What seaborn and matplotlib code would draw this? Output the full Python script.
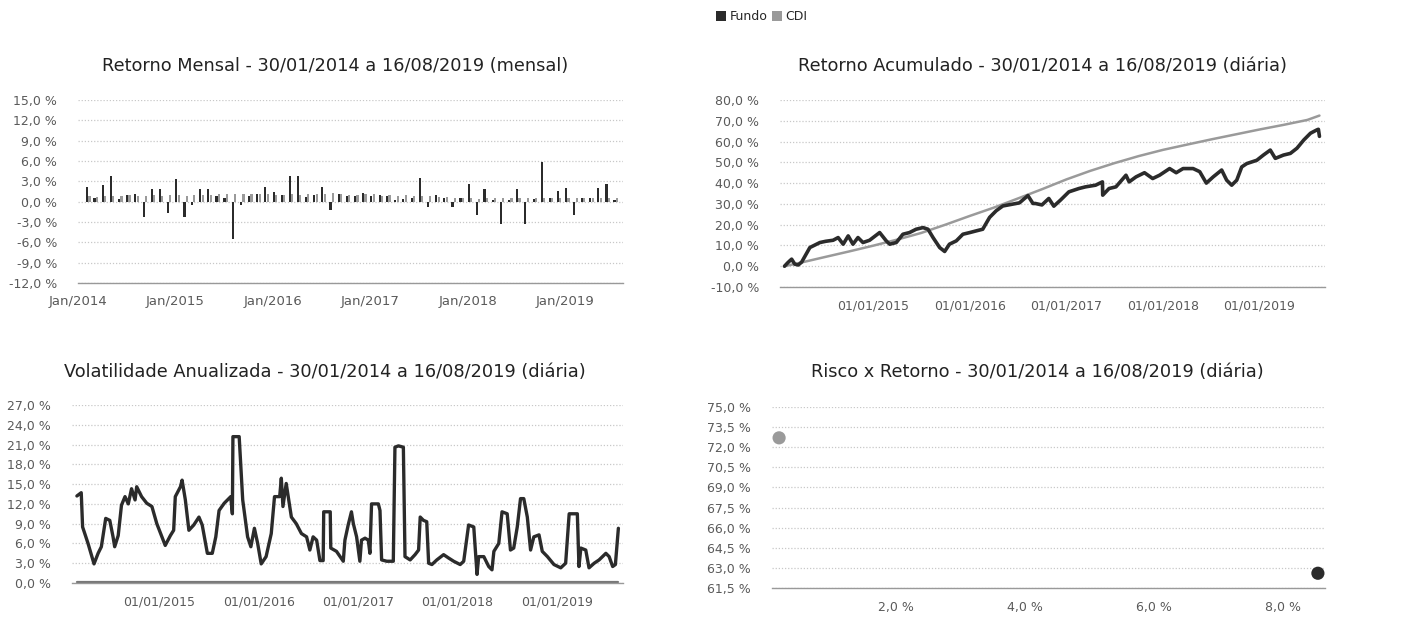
import numpy as np
import pandas as pd
import matplotlib
matplotlib.use("Agg")
import matplotlib.pyplot as plt
import matplotlib.dates as mdates
from matplotlib.ticker import FuncFormatter, FixedLocator
from matplotlib.patches import Patch
import seaborn as sns

# ---------------- DATA ----------------
months = ["2014-02", "2014-03", "2014-04", "2014-05", "2014-06", "2014-07", "2014-08", "2014-09", "2014-10", "2014-11", "2014-12",
          "2015-01", "2015-02", "2015-03", "2015-04", "2015-05", "2015-06", "2015-07", "2015-08", "2015-09", "2015-10", "2015-11", "2015-12",
          "2016-01", "2016-02", "2016-03", "2016-04", "2016-05", "2016-06", "2016-07", "2016-08", "2016-09", "2016-10", "2016-11", "2016-12",
          "2017-01", "2017-02", "2017-03", "2017-04", "2017-05", "2017-06", "2017-07", "2017-08", "2017-09", "2017-10", "2017-11", "2017-12",
          "2018-01", "2018-02", "2018-03", "2018-04", "2018-05", "2018-06", "2018-07", "2018-08", "2018-09", "2018-10", "2018-11", "2018-12",
          "2019-01", "2019-02", "2019-03", "2019-04", "2019-05", "2019-06", "2019-07"]
fundo_mensal = [2.2, 0.5, 2.5, 3.8, 0.4, 1.0, 1.2, -2.3, 1.8, 1.8, -1.6,
                3.3, -2.3, -0.5, 1.8, 1.8, 0.8, 0.6, -5.5, -0.5, 0.9, 1.1, 2.2,
                1.4, 1.0, 3.8, 3.8, 0.7, 1.0, 2.2, -1.2, 1.1, 0.9, 0.8, 1.3,
                0.9, 1.0, 0.8, 0.3, 0.4, 0.5, 3.5, -0.8, 1.0, 0.5, -0.8, 0.6,
                2.6, -2.0, 1.9, 0.3, -3.3, 0.3, 1.8, -3.3, 0.4, 5.8, 0.6, 1.5,
                2.0, -2.0, 0.5, 0.6, 2.0, 2.6, 0.3]
cdi_mensal = [0.78, 0.76, 0.82, 0.86, 0.82, 0.94, 0.86, 0.90, 0.94, 0.84, 0.96,
              0.93, 0.82, 1.04, 0.95, 0.98, 1.07, 1.18, 1.11, 1.11, 1.11, 1.06, 1.16,
              1.05, 1.00, 1.16, 1.05, 1.11, 1.16, 1.11, 1.21, 1.11, 1.05, 1.04, 1.12,
              1.09, 0.87, 1.05, 0.79, 0.93, 0.81, 0.80, 0.80, 0.64, 0.64, 0.57, 0.54,
              0.58, 0.46, 0.53, 0.52, 0.52, 0.52, 0.54, 0.57, 0.47, 0.54, 0.49, 0.49,
              0.54, 0.49, 0.47, 0.52, 0.54, 0.47, 0.57]

acum_fundo_datas = ["2014-01-30", "2014-02-10", "2014-02-19", "2014-02-26", "2014-03-10", "2014-03-23", "2014-04-05",
                    "2014-05-06", "2014-06-13", "2014-07-05", "2014-08-02", "2014-08-21", "2014-09-09", "2014-09-28",
                    "2014-10-16", "2014-11-04", "2014-11-23", "2014-12-18", "2015-01-25", "2015-02-19", "2015-03-04",
                    "2015-03-29", "2015-04-23", "2015-05-18", "2015-06-12", "2015-07-08", "2015-07-27", "2015-08-15",
                    "2015-09-09", "2015-09-28", "2015-10-16", "2015-11-11", "2015-12-06", "2016-01-01", "2016-01-25",
                    "2016-02-19", "2016-03-16", "2016-04-10", "2016-05-05", "2016-06-12", "2016-07-07", "2016-08-08",
                    "2016-08-27", "2016-09-05", "2016-09-30", "2016-10-26", "2016-11-14", "2016-12-09", "2017-01-10",
                    "2017-02-17", "2017-03-14", "2017-04-21", "2017-05-17", "2017-05-18", "2017-06-11", "2017-07-07",
                    "2017-08-14", "2017-08-26", "2017-09-21", "2017-10-23", "2017-11-23", "2017-12-19", "2018-01-26",
                    "2018-02-20", "2018-03-18", "2018-04-25", "2018-05-20", "2018-06-14", "2018-07-10", "2018-08-11",
                    "2018-08-30", "2018-09-18", "2018-10-07", "2018-10-26", "2018-11-14", "2018-12-22", "2019-01-16",
                    "2019-02-11", "2019-03-02", "2019-04-02", "2019-04-28", "2019-05-23", "2019-06-18", "2019-07-13",
                    "2019-08-06", "2019-08-12", "2019-08-16"]
acum_fundo = [0.0, 1.5, 2.6, 3.4, 1.0, 0.6, 2.0,
              9.0, 11.4, 12.0, 12.5, 13.8, 10.6, 14.6,
              10.6, 13.8, 11.4, 12.5, 16.2, 12.2, 10.6,
              11.4, 15.4, 16.2, 17.8, 18.6, 17.8, 13.8,
              9.0, 7.1, 10.6, 12.2, 15.4, 16.2, 17.0,
              17.8, 23.5, 26.7, 29.0, 29.9, 30.5, 34.0,
              30.2, 30.2, 29.5, 32.6, 28.9, 31.8, 35.8,
              37.4, 38.2, 39.0, 40.6, 34.2, 37.4, 38.2,
              43.8, 40.6, 43.0, 45.0, 42.2, 43.8, 47.0,
              45.0, 47.0, 47.0, 45.5, 40.0, 43.0, 46.3,
              41.4, 39.0, 41.4, 47.8, 49.4, 51.0, 53.5,
              55.9, 51.9, 53.5, 54.3, 56.8, 60.8, 64.0,
              65.6, 65.9, 62.5]

acum_cdi_datas = ["2014-01-30", "2014-04-01", "2014-07-01", "2014-10-01", "2015-01-01", "2015-04-01", "2015-07-01",
                  "2015-10-01", "2016-01-01", "2016-04-01", "2016-07-01", "2016-10-01", "2017-01-01", "2017-04-01",
                  "2017-07-01", "2017-10-01", "2018-01-01", "2018-04-01", "2018-07-01", "2018-10-01", "2019-01-01",
                  "2019-04-01", "2019-07-01", "2019-08-16"]
acum_cdi = [0.0, 1.7, 4.4, 7.1, 9.9, 12.8, 16.0,
            20.0, 24.2, 28.2, 32.6, 37.1, 41.8, 45.9,
            49.6, 53.0, 56.0, 58.5, 61.0, 63.4, 65.8,
            68.0, 70.4, 72.5]

vol_datas = ["2014-03-03", "2014-03-19", "2014-03-24", "2014-04-13", "2014-05-05", "2014-05-20", "2014-06-01", "2014-06-17",
             "2014-07-02", "2014-07-14", "2014-07-20", "2014-08-02", "2014-08-14", "2014-08-27", "2014-09-08", "2014-09-20",
             "2014-10-03", "2014-10-09", "2014-10-27", "2014-11-15", "2014-12-04", "2014-12-22", "2015-01-10", "2015-01-22",
             "2015-02-10", "2015-02-22", "2015-02-28", "2015-03-19", "2015-03-25", "2015-04-06", "2015-04-19", "2015-05-07",
             "2015-05-26", "2015-06-07", "2015-06-26", "2015-07-14", "2015-07-27", "2015-08-08", "2015-08-27", "2015-09-20",
             "2015-09-26", "2015-09-28", "2015-10-21", "2015-11-03", "2015-11-21", "2015-12-03", "2015-12-16", "2015-12-28",
             "2016-01-10", "2016-01-28", "2016-02-16", "2016-02-28", "2016-03-18", "2016-03-24", "2016-03-30", "2016-04-11",
             "2016-04-30", "2016-05-18", "2016-06-06", "2016-06-25", "2016-07-07", "2016-07-19", "2016-08-01", "2016-08-13",
             "2016-08-25", "2016-08-27", "2016-09-20", "2016-09-22", "2016-10-13", "2016-11-07", "2016-11-13", "2016-11-25",
             "2016-12-07", "2016-12-14", "2016-12-26", "2017-01-07", "2017-01-13", "2017-01-26", "2017-02-07", "2017-02-13",
             "2017-02-19", "2017-03-16", "2017-03-22", "2017-03-28", "2017-04-16", "2017-05-10", "2017-05-16", "2017-05-29",
             "2017-06-16", "2017-06-22", "2017-07-11", "2017-07-29", "2017-08-11", "2017-08-17", "2017-08-29", "2017-09-10",
             "2017-09-17", "2017-09-29", "2017-10-17", "2017-11-11", "2017-11-29", "2017-12-18", "2018-01-11", "2018-01-24",
             "2018-02-11", "2018-03-02", "2018-03-14", "2018-03-20", "2018-04-08", "2018-04-26", "2018-05-08", "2018-05-15",
             "2018-06-02", "2018-06-14", "2018-07-03", "2018-07-15", "2018-07-27", "2018-08-09", "2018-08-21", "2018-09-02",
             "2018-09-15", "2018-09-27", "2018-10-09", "2018-10-28", "2018-11-09", "2018-11-28", "2018-12-22", "2019-01-16",
             "2019-02-03", "2019-02-16", "2019-03-18", "2019-03-24", "2019-03-31", "2019-04-18", "2019-04-30", "2019-05-19",
             "2019-06-06", "2019-07-01", "2019-07-13", "2019-07-26", "2019-08-05", "2019-08-16"]
vol_fundo = [13.2, 13.7, 8.5, 6.0, 2.9, 4.5, 5.5, 9.8,
             9.5, 7.0, 5.5, 7.2, 11.8, 13.1, 12.0, 14.3,
             12.6, 14.6, 13.1, 12.1, 11.6, 9.0, 7.0, 5.7,
             7.2, 8.0, 13.1, 14.6, 15.6, 12.6, 8.0, 8.8,
             10.0, 8.8, 4.5, 4.5, 7.0, 11.0, 12.1, 13.1,
             10.5, 22.2, 22.2, 12.6, 7.0, 5.5, 8.3, 6.0,
             2.9, 4.0, 7.5, 13.1, 13.1, 15.9, 11.6, 15.1,
             10.0, 9.0, 7.5, 7.0, 5.0, 7.0, 6.5, 3.4,
             3.4, 10.8, 10.8, 5.3, 4.8, 3.3, 6.5, 8.8,
             10.8, 9.0, 7.0, 3.3, 6.5, 6.8, 6.5, 4.5,
             12.0, 12.0, 11.0, 3.5, 3.3, 3.3, 20.6, 20.8,
             20.6, 4.0, 3.5, 4.3, 5.0, 10.0, 9.5, 9.3,
             3.0, 2.8, 3.5, 4.3, 3.8, 3.3, 2.8, 3.3,
             8.8, 8.5, 1.3, 4.0, 4.0, 2.5, 2.0, 4.8,
             6.0, 10.8, 10.5, 5.0, 5.3, 8.5, 12.8, 12.8,
             10.0, 5.0, 7.0, 7.3, 4.8, 4.0, 2.8, 2.3,
             3.0, 10.5, 10.5, 2.5, 5.3, 5.0, 2.3, 3.0,
             3.5, 4.5, 4.0, 2.5, 2.8, 8.3]
vol_cdi_datas = ["2014-03-03", "2015-06-01", "2016-06-01", "2017-06-01", "2018-06-01", "2019-08-16"]
vol_cdi = [0.15, 0.15, 0.15, 0.15, 0.15, 0.15]

risco_series = ["Fundo", "CDI"]
risco_vol = [8.54, 0.19]
risco_ret = [62.6, 72.7]

# ---------------- STYLE ----------------
sns.set_theme(style="white")
plt.rcParams["font.family"] = ["DejaVu Sans"]

C_FUNDO = "#2b2b2b"
C_CDI = "#9a9a9a"
C_TICK = "#5a5a5a"
C_GRID = "#c8c8c8"

fig = plt.figure(figsize=(14.09, 6.3), dpi=100)
W, H = 1409, 630


def add_ax(l, t, r, b):
    return fig.add_axes([l / W, 1 - b / H, (r - l) / W, (b - t) / H])


def pct(dec):
    def f(v, pos):
        return f"{v:.{dec}f}".replace(".", ",") + " %"
    return FuncFormatter(f)


def style(ax, yticks):
    ax.set_yticks(yticks)
    ax.yaxis.set_major_formatter(pct(1))
    ax.grid(axis="y", linestyle=(0, (1, 1.5)), color=C_GRID, linewidth=0.9)
    ax.grid(axis="x", visible=False)
    for s in ["top", "right", "left"]:
        ax.spines[s].set_visible(False)
    ax.spines["bottom"].set_linestyle((0, (1, 1)))
    ax.spines["bottom"].set_color("#999999")
    ax.spines["bottom"].set_linewidth(1.0)
    ax.tick_params(axis="y", length=0, labelsize=9, labelcolor=C_TICK, pad=15)
    ax.tick_params(axis="x", length=7, width=0.8, color="#c0c0c0", direction="out",
                   labelsize=9, labelcolor=C_TICK, pad=2)
    ax.set_xlabel("")
    ax.set_ylabel("")
    ax.set_axisbelow(True)


def title(x, y, s):
    fig.text(x / W, 1 - y / H, s, ha="center", va="center", fontsize=12.8, color="#222222")


# ---- Panel 1: Retorno Mensal ----
ax1 = add_ax(78, 100, 623, 283)
mdt = pd.to_datetime(months)
ax1.bar(mdt + pd.Timedelta(days=3), fundo_mensal, width=8, color=C_FUNDO, linewidth=0)
ax1.bar(mdt + pd.Timedelta(days=12), cdi_mensal, width=8, color=C_CDI, linewidth=0)
ax1.set_xlim(pd.Timestamp("2014-01-01"), pd.Timestamp("2019-08-05"))
ax1.set_ylim(-12, 15)
style(ax1, np.arange(-12, 15.1, 3))
ax1.xaxis.set_major_locator(mdates.YearLocator())
ax1.xaxis.set_major_formatter(mdates.DateFormatter("%b/%Y"))
ax1.tick_params(axis="x", labelsize=9.5)
title(335, 66, "Retorno Mensal - 30/01/2014 a 16/08/2019 (mensal)")

# ---- Panel 2: Retorno Acumulado ----
ax2 = add_ax(780, 100, 1325, 287)
sns.lineplot(x=pd.to_datetime(acum_cdi_datas), y=acum_cdi, ax=ax2, color=C_CDI, linewidth=1.8)
sns.lineplot(x=pd.to_datetime(acum_fundo_datas), y=acum_fundo, ax=ax2, color=C_FUNDO, linewidth=2.6)
ax2.set_xlim(pd.Timestamp("2014-01-13"), pd.Timestamp("2019-09-06"))
ax2.set_ylim(-10, 80)
style(ax2, np.arange(-10, 80.1, 10))
ax2.xaxis.set_major_locator(FixedLocator(mdates.date2num(pd.to_datetime(
    ["2015-01-01", "2016-01-01", "2017-01-01", "2018-01-01", "2019-01-01"]))))
ax2.xaxis.set_major_formatter(mdates.DateFormatter("%d/%m/%Y"))
title(1043, 66, "Retorno Acumulado - 30/01/2014 a 16/08/2019 (diária)")

# ---- Panel 3: Volatilidade ----
ax3 = add_ax(72, 405, 623, 583)
sns.lineplot(x=pd.to_datetime(vol_cdi_datas), y=vol_cdi, ax=ax3, color="#777777", linewidth=1.6)
sns.lineplot(x=pd.to_datetime(vol_datas), y=vol_fundo, ax=ax3, color=C_FUNDO, linewidth=2.4)
ax3.set_xlim(pd.Timestamp("2014-02-13"), pd.Timestamp("2019-09-02"))
ax3.set_ylim(0, 27)
style(ax3, np.arange(0, 27.1, 3))
ax3.xaxis.set_major_locator(FixedLocator(mdates.date2num(pd.to_datetime(
    ["2015-01-01", "2016-01-01", "2017-01-01", "2018-01-01", "2019-01-01"]))))
ax3.xaxis.set_major_formatter(mdates.DateFormatter("%d/%m/%Y"))
title(325, 372, "Volatilidade Anualizada - 30/01/2014 a 16/08/2019 (diária)")

# ---- Panel 4: Risco x Retorno ----
ax4 = add_ax(772, 407, 1325, 588)
df_r = pd.DataFrame({"serie": risco_series, "vol": risco_vol, "ret": risco_ret})
sns.scatterplot(data=df_r, x="vol", y="ret", hue="serie", palette={"Fundo": C_FUNDO, "CDI": C_CDI},
                s=90, linewidth=0, ax=ax4, legend=False)
ax4.set_xlim(0.08, 8.65)
ax4.set_ylim(61.5, 75)
style(ax4, np.arange(61.5, 75.01, 1.5))
ax4.set_xticks([2, 4, 6, 8])
ax4.xaxis.set_major_formatter(pct(1))
title(1037, 372, "Risco x Retorno - 30/01/2014 a 16/08/2019 (diária)")

# ---- Legend ----
handles = [Patch(facecolor=C_FUNDO, edgecolor="none", label="Fundo"),
           Patch(facecolor=C_CDI, edgecolor="none", label="CDI")]
fig.legend(handles=handles, loc="center", bbox_to_anchor=(762 / W, 1 - 17 / H), ncol=2, frameon=False,
           fontsize=9, handlelength=0.8, handleheight=0.8, handletextpad=0.25, columnspacing=0.4)

fig.savefig("out.png", dpi=100)
